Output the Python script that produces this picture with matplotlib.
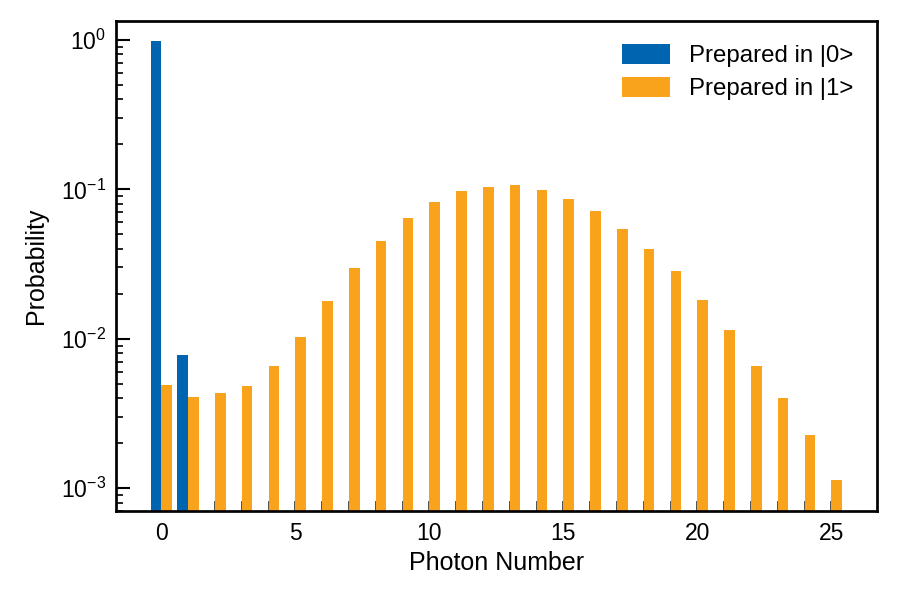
import numpy as np
import matplotlib
matplotlib.use("Agg")
import matplotlib.pyplot as plt
from matplotlib.ticker import LogLocator, NullFormatter

# -----------------------------
# data
# -----------------------------
n_ground = [0, 1]
p_ground = [0.985, 0.0078]

n_excited = list(range(26))
p_excited = [0.0049, 0.0041, 0.0043, 0.0048, 0.0066, 0.0103, 0.0179, 0.0299,
             0.0453, 0.0645, 0.0825, 0.0977, 0.104, 0.107, 0.0993, 0.0863,
             0.0718, 0.0544, 0.0400, 0.0285, 0.0182, 0.0115, 0.0066, 0.0040,
             0.00228, 0.00114]

labels = ["Prepared in |0>", "Prepared in |1>"]
blue = "#0064B1"
orange = "#F9A31D"

plt.rcParams["font.family"] = ["Liberation Sans", "DejaVu Sans"]

fig, ax = plt.subplots(figsize=(6, 4), dpi=150)
w = 0.4
ax.bar(n_ground, p_ground, width=-w, align="edge", color=blue, label=labels[0], zorder=2)
ax.bar(n_excited, p_excited, width=w, align="edge", color=orange, label=labels[1], zorder=2)
ax.set_axisbelow(True)

ax.set_yscale("log")
ax.set_ylim(7.0e-4, 1.34)
ax.yaxis.set_major_locator(LogLocator(base=10, numticks=10))
ax.yaxis.set_minor_locator(LogLocator(base=10, subs=np.arange(2, 10), numticks=10))
ax.yaxis.set_minor_formatter(NullFormatter())

# labels every 5, tick marks only at the photon numbers shown
ax.set_xticks(range(0, 26, 5))
ax.set_xticks(n_excited, minor=True)

ax.tick_params(axis="both", which="both", direction="in", labelsize=11, width=0.8, pad=5)
ax.tick_params(axis="y", which="major", length=6.5, width=1.0)
ax.tick_params(axis="y", which="minor", length=3.5)
ax.tick_params(axis="x", which="both", length=5, color="#333333")
ax.tick_params(top=False, right=False)

for s in ax.spines.values():
    s.set_linewidth(1.3)

ax.set_xlabel("Photon Number", fontsize=12, labelpad=3)
ax.set_ylabel("Probability", fontsize=12, labelpad=6)

ax.legend(frameon=False, loc="upper right", fontsize=11.5, handlelength=2.0,
          handleheight=0.9, labelspacing=0.42, borderaxespad=0.55)

fig.subplots_adjust(left=0.129, right=0.974, top=0.965, bottom=0.148)
fig.savefig("out.png", dpi=150)
